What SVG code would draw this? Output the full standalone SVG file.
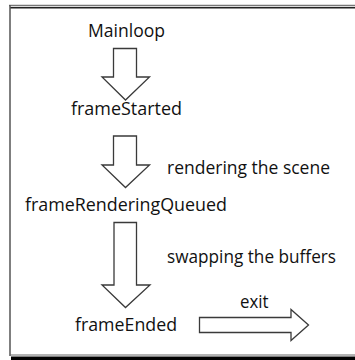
<svg xmlns="http://www.w3.org/2000/svg" width="355" height="360" viewBox="0 0 355 360">
  <style>
    .lbl { font-family: "Open Sans", "Liberation Sans", sans-serif; font-size: 18.5px; fill: #111111; }
    .mid { text-anchor: middle; }
    .arrow { fill: #ffffff; stroke: #3a3a3a; stroke-width: 1.3; stroke-linejoin: miter; }
  </style>
  <rect width="355" height="360" fill="#ffffff"/>

  <!-- frame -->
  <g id="frame">
    <line x1="9" y1="5.5" x2="355" y2="5.5" stroke="#777" stroke-width="1.5"/>
    <line x1="10" y1="7.8" x2="355" y2="7.8" stroke="#222" stroke-width="1.4"/>
    <line x1="10" y1="5" x2="10" y2="356" stroke="#555" stroke-width="1.5"/>
    <line x1="10" y1="355" x2="355" y2="355" stroke="#666" stroke-width="1"/>
    <rect x="11" y="356.5" width="344" height="3.5" fill="#000"/>
  </g>

  <!-- block arrows between stages -->
  <g id="connectors">
    <polygon class="arrow" points="113.5,48.5 136.5,48.5 136.5,77 149.5,77 125.5,100 102,77 113.5,77"/>
    <polygon class="arrow" points="113.5,136 136.5,136 136.5,165 149.5,165 125.5,187.5 102,165 113.5,165"/>
    <polygon class="arrow" points="114,222.5 136.5,222.5 136.5,285 150,285 125.5,307.5 102,285 114,285"/>
    <polygon class="arrow" points="199.5,317.5 291,317.5 291,309.5 308.5,325 291,340.5 291,332.5 199.5,332.5"/>
  </g>

  <g id="mainloop"><text class="lbl mid" x="126.5" y="37" textLength="77" lengthAdjust="spacingAndGlyphs">Mainloop</text></g>
  <g id="frameStarted"><text class="lbl mid" x="126.5" y="115" textLength="111" lengthAdjust="spacingAndGlyphs">frameStarted</text></g>
  <g id="rendering"><text class="lbl" x="167" y="173.5" textLength="163" lengthAdjust="spacingAndGlyphs">rendering the scene</text></g>
  <g id="frameRenderingQueued"><text class="lbl mid" x="126" y="211" textLength="202" lengthAdjust="spacingAndGlyphs">frameRenderingQueued</text></g>
  <g id="swapping"><text class="lbl" x="167" y="263" textLength="169" lengthAdjust="spacingAndGlyphs">swapping the buffers</text></g>
  <g id="frameEnded"><text class="lbl mid" x="126" y="331" textLength="102" lengthAdjust="spacingAndGlyphs">frameEnded</text></g>
  <g id="exit"><text class="lbl" x="240" y="308" textLength="28.5" lengthAdjust="spacingAndGlyphs">exit</text></g>
</svg>
